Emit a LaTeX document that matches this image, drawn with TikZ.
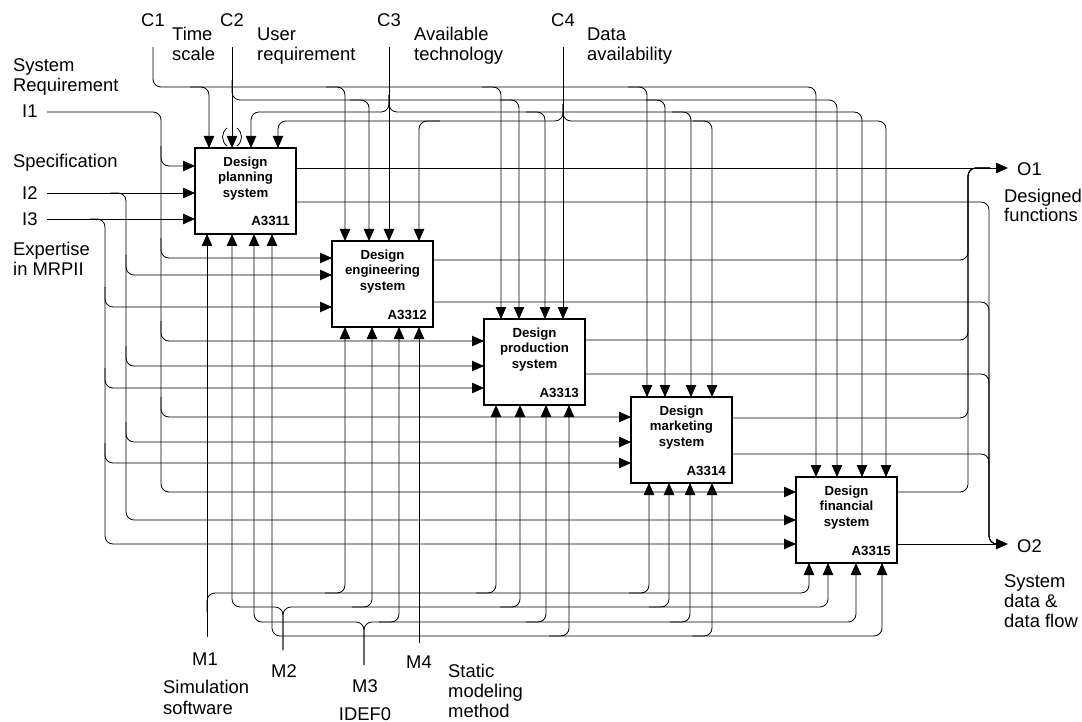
\documentclass[tikz,border=0pt]{standalone}
\usepackage{fontspec}
\setmainfont{Liberation Sans}
\usetikzlibrary{arrows.meta,calc}
\begin{document}
\begin{tikzpicture}[x=1pt,y=-1pt,
  ln/.style={line width=0.8pt,rounded corners=8pt},
  arr/.style={ln,-{Triangle[length=12pt,width=10.5pt]}},
  fbox/.style={draw,line width=1.4pt,minimum width=101pt,minimum height=86pt,inner sep=0pt,outer sep=0pt,fill=white},
  ttl/.style={font=\bfseries\fontsize{13.2}{15.5}\selectfont,align=center,inner sep=0pt},
  idl/.style={font=\bfseries\fontsize{13.3}{15}\selectfont,inner sep=0pt,anchor=base east},
  lbl/.style={font=\fontsize{18.4}{20}\selectfont,inner sep=0pt,anchor=base west},
  lblc/.style={lbl,anchor=base}]
\fill[white] (0,0) rectangle (1082,722);
\useasboundingbox (0,0) rectangle (1082,722);

% boxes
\node[fbox] (b1) at (245.5,191) {};
\node[fbox] (b2) at (382.5,284) {};
\node[fbox] (b3) at (534.5,362) {};
\node[fbox] (b4) at (681.5,440) {};
\node[fbox] (b5) at (846.5,520) {};
\node[ttl] (t1) at ($(b1.north)+(0,30.5)$) {Design\\planning\\system};
\node[ttl] (t2) at ($(b2.north)+(0,30.5)$) {Design\\engineering\\system};
\node[ttl] (t3) at ($(b3.north)+(0,30.5)$) {Design\\production\\system};
\node[ttl] (t4) at ($(b4.north)+(0,30.5)$) {Design\\marketing\\system};
\node[ttl] (t5) at ($(b5.north)+(0,30.5)$) {Design\\financial\\system};
\node[idl] (d1) at ($(b1.south east)+(-6,-8)$) {A3311};
\node[idl] (d2) at ($(b2.south east)+(-6,-8)$) {A3312};
\node[idl] (d3) at ($(b3.south east)+(-6,-8)$) {A3313};
\node[idl] (d4) at ($(b4.south east)+(-6,-8)$) {A3314};
\node[idl] (d5) at ($(b5.south east)+(-6,-8)$) {A3315};

% external ends
\coordinate (c1) at (153,47);
\coordinate (c2) at (232,47);
\coordinate (c3) at (389,47);
\coordinate (c4) at (563,47);
\coordinate (i1) at (47,112);
\coordinate (i2) at (47,193);
\coordinate (i3) at (47,219);
\coordinate (m1) at (207,637);
\coordinate (m2) at (283,650);
\coordinate (m3) at (364,665);
\coordinate (m4) at (419,643);
\coordinate (o1) at (1008,168);
\coordinate (o2) at (1008,544);

% controls
\draw[arr] (c1) -- (153,87) -- (816,87) -- (816,0 |- b5.north);
\foreach \x/\b in {209/1,345/2,501/3,647/4}
  \draw[arr] (\x-19,87) -- (\x,87) -- (\x,0 |- b\b.north);
\draw[arr] (c2) -- (232,0 |- b1.north);
\draw[arr] (232,80) -- (232,100) -- (837,100) -- (837,0 |- b5.north);
\foreach \x/\b in {369/2,519/3,665/4}
  \draw[arr] (\x-19,100) -- (\x,100) -- (\x,0 |- b\b.north);
\draw[arr] (c3) -- (389,0 |- b2.north);
\draw[arr] (389,95) -- (389,112) -- (251,112) -- (251,0 |- b1.north);
\draw[arr] (389,95) -- (389,112) -- (862,112) -- (862,0 |- b5.north);
\foreach \x/\b in {545/3,691/4}
  \draw[arr] (\x-19,112) -- (\x,112) -- (\x,0 |- b\b.north);
\draw[arr] (c4) -- (563,0 |- b3.north);
\draw[arr] (563,104) -- (563,121) -- (278,121) -- (278,0 |- b1.north);
\draw[arr] (563,104) -- (563,121) -- (886,121) -- (886,0 |- b5.north);
\draw[arr] (440,121) -- (419,121) -- (419,0 |- b2.north);
\draw[arr] (693,121) -- (712,121) -- (712,0 |- b4.north);
% tunnel marks
\draw[line width=0.8pt] (227,128) .. controls (221,133) and (221,141) .. (227,146);
\draw[line width=0.8pt] (237,128) .. controls (243,133) and (243,141) .. (237,146);

% inputs
\draw[arr] (i1) -- (161,112) -- (161,492) -- (b5.west |- 0,492);
\foreach \y/\b in {166/1,258/2,341/3,417/4}
  \draw[arr] (161,\y-20) -- (161,\y) -- (b\b.west |- 0,\y);
\draw[arr] (i2) -- (b1.west |- 0,193);
\draw[arr] (110,193) -- (126,193) -- (126,520) -- (b5.west |- 0,520);
\foreach \y/\b in {275/2,366/3,442/4}
  \draw[arr] (126,\y-20) -- (126,\y) -- (b\b.west |- 0,\y);
\draw[arr] (i3) -- (b1.west |- 0,219);
\draw[arr] (90,219) -- (105,219) -- (105,544) -- (b5.west |- 0,544);
\foreach \y/\b in {307/2,388/3,463/4}
  \draw[arr] (105,\y-20) -- (105,\y) -- (b\b.west |- 0,\y);

% mechanisms
\draw[arr] (m1) -- (207,0 |- b1.south);
\draw[arr] (207,612) -- (207,593) -- (809,593) -- (809,0 |- b5.south);
\foreach \x/\b in {345/2,496/3,649/4}
  \draw[arr] (\x-20,593) -- (\x,593) -- (\x,0 |- b\b.south);
\draw[arr] (m2) -- (283,607) -- (232,607) -- (232,0 |- b1.south);
\draw[arr] (m2) -- (283,607) -- (828,607) -- (828,0 |- b5.south);
\foreach \x/\b in {372/2,520/3,669/4}
  \draw[arr] (\x-20,607) -- (\x,607) -- (\x,0 |- b\b.south);
\draw[arr] (m3) -- (364,622) -- (254,622) -- (254,0 |- b1.south);
\draw[arr] (m3) -- (364,622) -- (856,622) -- (856,0 |- b5.south);
\foreach \x/\b in {399/2,546/3,690/4}
  \draw[arr] (\x-20,622) -- (\x,622) -- (\x,0 |- b\b.south);
\draw[arr] (m4) -- (419,0 |- b2.south);
\draw[arr] (419,636) -- (272,636) -- (272,0 |- b1.south);
\draw[arr] (419,636) -- (882,636) -- (882,0 |- b5.south);
\foreach \x/\b in {569/3,712/4}
  \draw[arr] (\x-20,636) -- (\x,636) -- (\x,0 |- b\b.south);

% outputs
\draw[arr] (b1.east |- 0,168) -- (o1);
\foreach \y/\b in {260/2,340/3,418/4,492/5}
  \draw[ln] (b\b.east |- 0,\y) -- (968,\y) -- (968,168) -- (990,168);
\draw[arr] (b5.east |- 0,544) -- (o2);
\foreach \y/\b in {202/1,302/2,374/3,454/4}
  \draw[ln] (b\b.east |- 0,\y) -- (989,\y) -- (989,544) -- (1000,544);

% labels
\node[lblc] (lc1) at (153,27) {C1};
\node[lbl] (lc1a) at (172,41) {Time};
\node[lbl] (lc1b) at (172,61) {scale};
\node[lblc] (lc2) at (232,27) {C2};
\node[lbl] (lc2a) at (257,41) {User};
\node[lbl] (lc2b) at (257,61) {requirement};
\node[lblc] (lc3) at (389,27) {C3};
\node[lbl] (lc3a) at (414,41) {Available};
\node[lbl] (lc3b) at (414,61) {technology};
\node[lblc] (lc4) at (563,27) {C4};
\node[lbl] (lc4a) at (587,41) {Data};
\node[lbl] (lc4b) at (587,61) {availability};

\node[lbl] (li1a) at (13,72) {System};
\node[lbl] (li1b) at (13,92) {Requirement};
\node[lbl] (li1) at (22,118) {I1};
\node[lbl] (li2a) at (13,168) {Specification};
\node[lbl] (li2) at (22,200) {I2};
\node[lbl] (li3) at (22,226) {I3};
\node[lbl] (li3a) at (13,255) {Expertise};
\node[lbl] (li3b) at (13,276) {in MRPII};

\node[lbl] (lo1) at (1017,176) {O1};
\node[lbl] (lo1a) at (1004,203) {Designed};
\node[lbl] (lo1b) at (1004,222) {functions};
\node[lbl] (lo2) at (1017,552) {O2};
\node[lbl] (lo2a) at (1004,587) {System};
\node[lbl] (lo2b) at (1004,607) {data \&};
\node[lbl] (lo2c) at (1004,627) {data flow};

\node[lblc] (lm1) at (205,665) {M1};
\node[lbl] (lm1a) at (163,693) {Simulation};
\node[lbl] (lm1b) at (163,714) {software};
\node[lblc] (lm2) at (284,677) {M2};
\node[lblc] (lm3) at (365,692) {M3};
\node[lblc] (lm3a) at (365,720) {IDEF0};
\node[lblc] (lm4) at (419,668) {M4};
\node[lbl] (lm4a) at (448,677) {Static};
\node[lbl] (lm4b) at (448,697) {modeling};
\node[lbl] (lm4c) at (448,717) {method};
\end{tikzpicture}
\end{document}
